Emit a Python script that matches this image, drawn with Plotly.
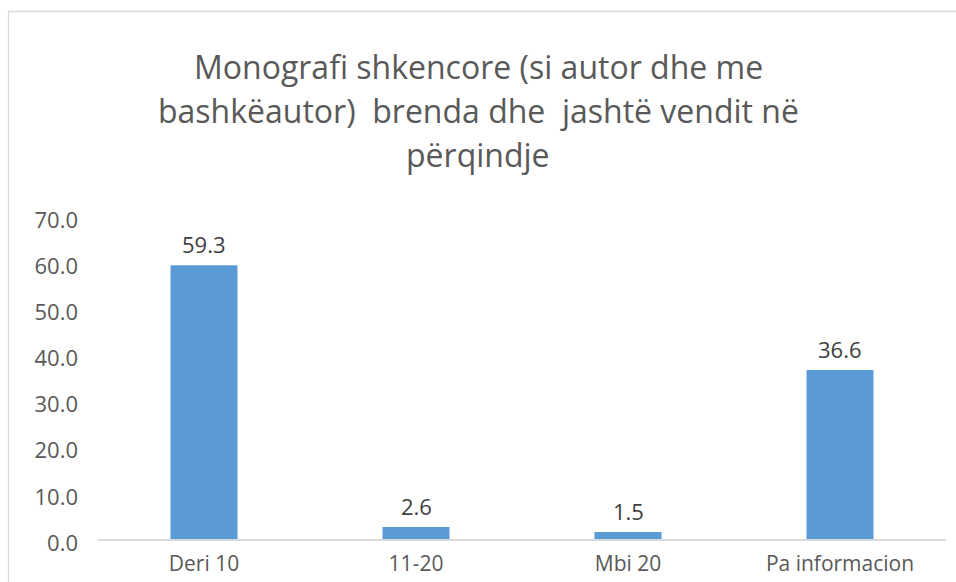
import plotly.graph_objects as go

# Chart data
categories = ["Deri 10", "11-20", "Mbi 20", "Pa informacion"]
values = [59.3, 2.6, 1.5, 36.6]
title_lines = [
    "Monografi shkencore (si autor dhe me",
    "bashkëautor)  brenda dhe  jashtë vendit në",
    "përqindje",
]
y_ticks = [0, 10, 20, 30, 40, 50, 60, 70]

W, H = 956, 582
M_L, M_R, M_T, M_B = 98, 10, 216, 43
PLOT_H = H - M_T - M_B
FONT = "Open Sans"
BAR_COLOR = "#5B9BD5"


def py(px_y):
    """Convert a pixel row (from top of page) to paper y."""
    return (H - M_B - px_y) / PLOT_H


def px(px_x):
    """Convert a pixel column to paper x."""
    return (px_x - M_L) / (W - M_L - M_R)


fig = go.Figure(
    go.Bar(
        x=categories,
        y=values,
        marker=dict(color=BAR_COLOR, line=dict(width=0)),
        hoverinfo="x+y",
    )
)

annotations = []
# value labels above each bar
for c, v in zip(categories, values):
    annotations.append(dict(
        x=c, y=v, xref="x", yref="y", text=f"{v:.1f}", showarrow=False,
        yanchor="middle", yshift=21,
        font=dict(family=FONT, size=22, color="#404040"),
    ))
# three-line title
for line, y_px in zip(title_lines, [66, 110, 154]):
    annotations.append(dict(
        x=0.5 * (px(0) + px(W)), y=py(y_px), xref="paper", yref="paper",
        text=line, showarrow=False, xanchor="center", yanchor="middle",
        font=dict(family=FONT, size=32, color="#595959"),
    ))

fig.update_layout(
    width=W, height=H,
    margin=dict(l=M_L, r=M_R, t=M_T, b=M_B, pad=0, autoexpand=False),
    paper_bgcolor="white", plot_bgcolor="white",
    showlegend=False,
    bargap=0.684,
    annotations=annotations,
    shapes=[dict(
        type="rect", xref="paper", yref="paper",
        x0=px(8.5), x1=px(W + 20), y0=py(H + 20), y1=py(11.5),
        line=dict(color="#D9D9D9", width=1.3), fillcolor="rgba(0,0,0,0)",
        layer="below",
    )],
    xaxis=dict(
        showgrid=False, zeroline=False, automargin=False,
        showline=True, linecolor="#D9D9D9", linewidth=1.5,
        ticks="", ticklabelstandoff=5,
        tickfont=dict(family=FONT, size=21, color="#595959"),
    ),
    yaxis=dict(
        range=[0, 70], tickvals=y_ticks, tickformat=".1f", automargin=False,
        showgrid=False, zeroline=False, showline=False,
        ticks="", ticklabelstandoff=19, ticklabelshift=4,
        tickfont=dict(family=FONT, size=22, color="#595959"),
    ),
    font=dict(family=FONT),
)

fig.write_html("out.html")
